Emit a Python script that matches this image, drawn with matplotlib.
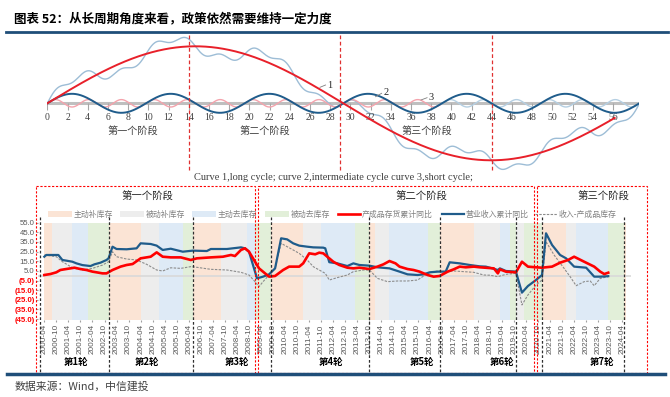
import numpy as np
import matplotlib
matplotlib.use('Agg')
import matplotlib.pyplot as plt
from matplotlib.patches import Rectangle

plt.rcParams['font.family'] = ['Liberation Sans', 'Noto Sans CJK SC']
CJK = ['Noto Sans CJK SC', 'DejaVu Sans']
SERIF = ['Liberation Serif', 'Noto Sans CJK SC']

# ---------------- data: schematic (theoretical cycles) ----------------
cycle_labels = ['1', '2', '3']
cycle_periods = [58.6, 9.77, 3.26]       # long / intermediate / short cycle length
cycle_amplitudes = [57.0, 9.5, 3.7]
long_curve_end = 56.2
short_pink_end = 39.0
schematic_end = 58.6
schematic_ticks = list(range(0, 57, 2))
stage_names = ['第一个阶段', '第二个阶段', '第三个阶段']
stage_label_x = [8.46, 21.55, 37.56]
stage_bounds = [14, 29, 44]
caption = 'Curve 1,long cycle; curve 2,intermediate cycle curve 3,short cycle;'

# ---------------- data: inventory cycle chart ----------------
band_starts = ['2000-04', '2000-08', '2001-06', '2002-02', '2002-12', '2004-04', '2005-01',
               '2006-01', '2006-06', '2007-08', '2008-09', '2009-01', '2009-09', '2011-01',
               '2011-10', '2013-03', '2013-10', '2014-01', '2014-08', '2016-03', '2016-09',
               '2018-02', '2019-03', '2019-08', '2019-11', '2020-03', '2020-12', '2021-12',
               '2022-05', '2023-09', '2024-05']
band_types = [0, 1, 2, 3, 0, 1, 2, 3, 0, 1, 2, 3, 0, 1, 2, 3, 0, 1, 2, 3, 0, 1, 2, 3, 1, 3,
              0, 1, 2, 3, 0]
band_end = '2024-06'
band_names = ['主动补库存', '被动补库存', '主动去库存', '被动去库存']
band_colors = ['#FBE4D5', '#EDEDED', '#DEEAF6', '#E2EFD9']

revenue_dates = ['2000-04', '2000-05', '2000-11', '2001-01', '2001-03', '2001-06', '2001-08',
                 '2001-11', '2002-03', '2002-05', '2002-08', '2002-11', '2002-12', '2003-02',
                 '2003-04', '2003-09', '2004-02', '2004-04', '2004-09', '2004-12', '2005-03',
                 '2005-07', '2006-01', '2006-06', '2007-01', '2007-03', '2007-11', '2008-06',
                 '2008-08', '2008-10', '2008-12', '2009-02', '2009-05', '2009-08', '2009-11',
                 '2010-02', '2010-05', '2010-08', '2010-11', '2011-03', '2011-06', '2011-11',
                 '2011-12', '2012-02', '2012-06', '2012-11', '2013-02', '2013-05', '2013-10',
                 '2014-02', '2014-08', '2015-01', '2015-05', '2015-10', '2016-01', '2016-04',
                 '2016-08', '2016-12', '2017-02', '2017-07', '2017-12', '2018-05', '2018-08',
                 '2018-10', '2019-02', '2019-03', '2019-06', '2019-11', '2020-02', '2020-05',
                 '2020-09', '2020-12', '2021-02', '2021-05', '2021-09', '2021-12', '2022-04',
                 '2022-10', '2023-02', '2023-05', '2023-09']
revenue_yoy = [19.7, 21.5, 21.5, 16.3, 15.6, 14.5, 12.8, 11.0, 10.0, 11.8, 13.5, 16.3, 18.0,
               30.1, 27.7, 27.4, 28.4, 33.6, 32.9, 31.2, 26.7, 28.0, 24.9, 26.0, 25.6, 27.7,
               27.7, 29.4, 28.4, 24.9, 11.0, -2.8, -1.0, 1.4, 7.6, 38.8, 37.7, 33.6, 31.2,
               30.1, 29.4, 29.1, 28.4, 14.0, 12.8, 10.0, 12.8, 11.1, 10.4, 8.7, 7.6, 4.2, 1.4,
               0.7, 1.4, 3.5, 4.2, 4.2, 13.9, 12.8, 11.1, 9.7, 9.4, 8.3, 5.9, 7.6, 4.9, 4.2,
               -17.6, -10.7, -4.5, 0.7, 44.0, 31.9, 21.5, 18.0, 9.4, 8.3, -1.0, -1.0, -0.5]

inventory_dates = ['2000-04', '2000-07', '2000-10', '2000-12', '2001-02', '2001-05', '2001-07',
                   '2001-10', '2002-01', '2002-04', '2002-06', '2002-09', '2002-11', '2003-02',
                   '2003-06', '2003-09', '2003-12', '2004-04', '2004-09', '2004-12', '2005-03',
                   '2005-07', '2005-12', '2006-05', '2006-08', '2007-03', '2007-09', '2008-01',
                   '2008-03', '2008-06', '2008-08', '2008-10', '2009-01', '2009-03', '2009-06',
                   '2009-08', '2009-11', '2010-03', '2010-06', '2010-11', '2011-01', '2011-04',
                   '2011-07', '2011-09', '2011-11', '2012-01', '2012-04', '2012-07', '2012-11',
                   '2013-02', '2013-05', '2013-10', '2014-02', '2014-05', '2014-08', '2014-11',
                   '2015-01', '2015-05', '2015-08', '2015-11', '2016-03', '2016-06', '2016-09',
                   '2017-01', '2017-04', '2017-07', '2017-10', '2018-02', '2018-05', '2018-12',
                   '2019-02', '2019-03', '2019-06', '2019-11', '2020-02', '2020-05', '2020-09',
                   '2020-12', '2021-05', '2021-09', '2022-01', '2022-04', '2022-09', '2023-02',
                   '2023-05', '2023-07', '2023-09']
inventory_yoy = [0.7, 1.7, 3.5, 5.9, 6.6, 7.6, 8.3, 6.9, 5.9, 4.2, 3.5, 2.4, 2.4, 5.9, 9.4,
                 11.1, 12.1, 18.0, 19.7, 24.2, 19.7, 19.0, 19.0, 16.3, 18.0, 19.0, 19.7, 21.5,
                 20.4, 26.7, 28.4, 24.9, 14.5, 7.6, 2.4, -1.0, -0.3, 5.9, 9.4, 9.4, 12.8, 23.2,
                 22.2, 23.9, 23.2, 19.7, 14.5, 11.1, 8.3, 7.6, 8.3, 6.9, 9.4, 11.8, 15.2, 12.8,
                 9.4, 6.9, 5.9, 4.2, 0.7, -1.0, -0.3, 4.2, 6.6, 9.4, 8.7, 9.4, 8.7, 7.6, 2.4,
                 6.6, 4.2, 3.5, 14.5, 9.4, 8.7, 8.3, 9.4, 13.5, 16.3, 19.7, 14.5, 9.4, 4.2,
                 1.7, 3.1]

spread_dates = ['2000-04', '2000-10', '2001-01', '2001-06', '2001-11', '2002-04', '2002-09',
                '2002-12', '2003-02', '2003-04', '2003-09', '2004-02', '2004-07', '2004-12',
                '2005-03', '2005-07', '2005-12', '2006-05', '2006-08', '2007-03', '2007-11',
                '2008-06', '2008-10', '2009-01', '2009-03', '2009-05', '2009-08', '2009-11',
                '2010-02', '2010-05', '2010-08', '2010-11', '2011-03', '2011-06', '2011-09',
                '2011-12', '2012-02', '2012-06', '2012-11', '2013-02', '2013-07', '2013-10',
                '2014-02', '2014-07', '2014-12', '2015-05', '2015-10', '2016-03', '2016-08',
                '2017-01', '2017-04', '2017-09', '2018-02', '2018-07', '2018-10', '2019-02',
                '2019-06', '2019-11', '2020-02', '2020-05', '2020-09', '2020-12', '2021-02',
                '2021-06', '2021-11', '2022-02', '2022-05', '2022-09', '2022-12', '2023-02',
                '2023-05', '2023-09']
spread = [21.5, 19.7, 14.5, 8.3, 5.9, 7.6, 11.0, 14.5, 24.9, 19.7, 17.3, 16.3, 11.8, 5.9, 4.9,
          8.2, 7.6, 9.4, 8.7, 6.6, 5.9, 3.5, 0.7, -6.2, -11.4, -6.2, 0.7, 7.6, 33.6, 30.1,
          26.7, 23.2, 16.3, 9.4, 5.9, 2.4, -4.5, -2.0, 0.7, 4.2, 5.9, 5.9, -2.8, -6.2, -5.5,
          -5.5, -4.5, 2.4, 4.9, 4.2, 4.9, 4.2, 3.5, 0.7, 0.5, -1.0, 1.4, 2.4, -30.4, -20.0,
          -9.7, -4.5, 35.3, 21.5, 7.6, -1.0, -10.4, -6.2, -5.5, -10.4, -2.8, -1.0]

series_names = ['产成品存货累计同比', '营业收入累计同比', '收入-产成品库存']
round_bounds = ['2000-02', '2002-12', '2006-06', '2009-09', '2013-10', '2016-09', '2019-11',
                '2020-12', '2024-05']
round_names = ['第1轮', '第2轮', '第3轮', '第4轮', '第5轮', '第6轮', '第7轮']
round_label_at = ['2001-08', '2004-07', '2008-04', '2012-03', '2015-12', '2019-04', '2023-06']
y_ticks = [55, 45, 35, 25, 15, 5, -5, -15, -25, -35, -45]
phase_names = ['第一个阶段', '第二个阶段', '第三个阶段']


def ym(s):
    y, m = s.split('-')
    return int(y) + (int(m) - 1) / 12.0


W, H = 670, 397
fig = plt.figure(figsize=(W / 100, H / 100), dpi=100)


def rect(x0, y0, x1, y1):
    return [x0 / W, 1 - y1 / H, (x1 - x0) / W, (y1 - y0) / H]


# ================= top schematic =================
ux, x0px, axis_px = 10.1, 47.3, 103.3
ax1 = fig.add_axes(rect(x0px, 30, x0px + ux * schematic_end, 175))
ax1.set_xlim(0, schematic_end)
ax1.set_ylim(axis_px - 175, axis_px - 30)
ax1.axis('off')

t = np.linspace(0, schematic_end, 1500)
waves = [a * np.sin(2 * np.pi * t / p) for a, p in zip(cycle_amplitudes, cycle_periods)]
total = waves[0] + waves[1] + waves[2]

ax1.plot([0, schematic_end], [0, 0], color='#BFBFBF', lw=2.2, zorder=1, solid_capstyle='butt')
ax1.vlines(schematic_ticks, -7, 0, colors='#A6A6A6', lw=0.8, zorder=1)
for tk in schematic_ticks:
    ax1.text(tk, -13.7, str(tk), ha='center', va='center', fontsize=7, family=SERIF,
             color='#404040')
ax1.plot(t, total, color='#9DBDD6', lw=1.0, zorder=2)
m_pink = t <= short_pink_end
ax1.plot(t[m_pink], waves[2][m_pink], color='#F4A3AC', lw=1.0, zorder=3)
ax1.plot(t[~m_pink], waves[2][~m_pink], color='#B5CFE2', lw=1.0, zorder=3)
ax1.plot(t, waves[1], color='#1F5C8B', lw=1.4, zorder=4)
m_long = t <= long_curve_end
ax1.plot(t[m_long], waves[0][m_long], color='#E8202A', lw=1.4, zorder=5)
ax1.vlines(stage_bounds, -66.7, 70.3, colors='#E03030', linestyles=(0, (3, 2)), lw=0.9,
           zorder=6)
for name, sx in zip(stage_names, stage_label_x):
    ax1.text(sx, -27.4, name, ha='center', va='center', fontsize=7.3, family=CJK,
             color='#404040')
# curve labels with leader lines
label_pts = [(27.0, 27.55, 27.7, 16.0, 18.3, 17.3), (32.5, 33.1, 33.3, 6.6, 10.0, 10.6),
             (37.0, 37.6, 37.7, 3.3, 5.6, 6.0)]
for lab, (xa, xb, xt, ya, yb, yt) in zip(cycle_labels, label_pts):
    ax1.plot([xa, xb], [ya, yb], color='#7F7F7F', lw=0.6, zorder=7)
    ax1.text(xt, yt, lab, ha='left', va='center', fontsize=7.5, family=SERIF,
             color='#262626', zorder=7)

fig.text(333 / W, 1 - 177 / H, caption, ha='center', va='center', fontsize=7.5,
         family=SERIF, color='#404040')

# ================= bottom chart =================
X0, X1 = 2000.0, 2024.6
ppy = 24.083
left_px = 44.3 + (X0 - 2000.25) * ppy
right_px = 44.3 + (X1 - 2000.25) * ppy
ax2 = fig.add_axes(rect(left_px, 222.7, right_px, 320.0))
ax2.set_xlim(X0, X1)
ax2.set_ylim(-46, 55)
for s in ax2.spines.values():
    s.set_visible(False)

bstarts = [ym(s) for s in band_starts] + [ym(band_end)]
for i, bt in enumerate(band_types):
    ax2.axvspan(bstarts[i], bstarts[i + 1], color=band_colors[bt], lw=0, zorder=0)
ax2.axhline(0, color='#D9D9D9', lw=1.2, zorder=1)

ax2.plot([ym(d) for d in spread_dates], spread, color='#8C8C8C', lw=0.8,
         ls=(0, (2.2, 1.2)), zorder=2)
ax2.plot([ym(d) for d in revenue_dates], revenue_yoy, color='#1F5C8B', lw=1.6, zorder=3)
ax2.plot([ym(d) for d in inventory_dates], inventory_yoy, color='#FF0000', lw=1.9, zorder=4)

ax2.set_yticks(y_ticks)
ax2.set_yticklabels([f'{v:.1f}' if v > 0 else f'({-v:.1f})' for v in y_ticks])
for lbl, v in zip(ax2.get_yticklabels(), y_ticks):
    lbl.set_color('#595959' if v > 0 else '#FF0000')
    if v < 0:
        lbl.set_fontweight('bold')
ax2.tick_params(axis='y', labelsize=5.6, length=1.5, pad=1.2, color='#A0A0A0')

xt = []
xl = []
for yy in range(2000, 2025):
    for mm in (4, 10):
        s = f'{yy}-{mm:02d}'
        if ym(s) <= ym('2024-04') + 1e-9:
            xt.append(ym(s))
            xl.append(s)
ax2.set_xticks(xt)
ax2.set_xticklabels(xl, rotation=90, fontsize=5.9, color='#595959')
ax2.tick_params(axis='x', length=1.5, pad=1.5, color='#A0A0A0')

tr = ax2.get_xaxis_transform()
for rb in round_bounds:
    ax2.plot([ym(rb), ym(rb)], [1.059, -0.545], transform=tr, clip_on=False,
             color='#303030', lw=0.9, ls=(0, (2.2, 1.6)), zorder=6)
for name, at in zip(round_names, round_label_at):
    ax2.text(ym(at), -0.43, name, transform=tr, ha='center', va='center', fontsize=6.8,
             fontweight='bold', family=CJK, color='#000000')

# ================= overlay (layout decorations) =================
ov = fig.add_axes([0, 0, 1, 1])
ov.set_xlim(0, W)
ov.set_ylim(H, 0)
ov.axis('off')

ov.text(14, 18.7, '图表 52：从长周期角度来看，政策依然需要维持一定力度', fontsize=9,
        fontweight='bold', family=CJK, va='center', ha='left', color='#000000')
ov.plot([6, 668], [31.7, 31.7], color='#1F4E79', lw=2.0)

for (bx0, bx1) in [(35.7, 255), (258, 534), (537, 647)]:
    ov.add_patch(Rectangle((bx0, 186), bx1 - bx0, 373 - 186, fill=False, ec='#FF0000',
                           ls=(0, (2, 1.5)), lw=0.8))

for name, cx in zip(phase_names, [147, 421, 603]):
    ov.text(cx, 196.7, name, ha='center', va='center', fontsize=7.5, family=CJK,
            color='#262626')

# legend
leg_y = 214
patch_x = [48, 120, 192, 265]
for i, px in enumerate(patch_x):
    ov.add_patch(Rectangle((px, leg_y - 2.8), 24, 5.6, color=band_colors[i], lw=0))
    ov.text(px + 26, leg_y, band_names[i], ha='left', va='center', fontsize=5.7, family=CJK,
            color='#808080')
line_x = [338, 442, 535]
line_styles = [dict(color='#FF0000', lw=1.9), dict(color='#1F5C8B', lw=1.6),
               dict(color='#8C8C8C', lw=0.8, ls=(0, (2.2, 1.2)))]
for i, lx in enumerate(line_x):
    ov.plot([lx, lx + 22], [leg_y, leg_y], **line_styles[i])
    ov.text(lx + 24, leg_y, series_names[i], ha='left', va='center', fontsize=5.7,
            family=CJK, color='#808080')

ov.plot([7, 665], [374.0, 374.0], color='#1F4E79', lw=2.5)
ov.text(15, 386, '数据来源：Wind，中信建投', fontsize=7.8, style='italic', family=CJK,
        color='#404040', va='center', ha='left')

fig.savefig('out.png', dpi=100)
